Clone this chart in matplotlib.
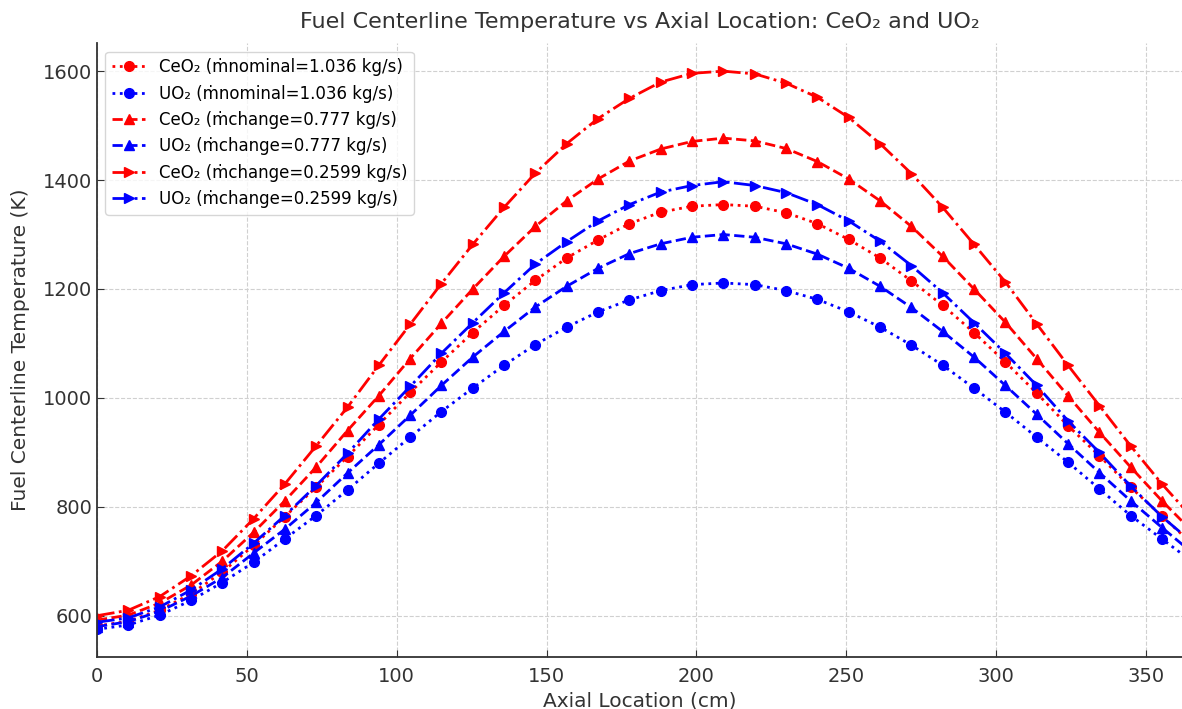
import matplotlib
matplotlib.use("Agg")
import matplotlib.pyplot as plt

# axial positions of the nodes (cm)
z = [0, 10.45, 20.9, 31.35, 41.8, 52.25, 62.7, 73.15, 83.6, 94.05, 104.5, 114.95,
     125.4, 135.85, 146.3, 156.75, 167.2, 177.65, 188.1, 198.55, 209.0, 219.45,
     229.9, 240.35, 250.8, 261.25, 271.7, 282.15, 292.6, 303.05, 313.5, 323.95,
     334.4, 344.85, 355.3, 365.76]

# centerline temperatures (K)
ceo2_nom = [581, 590, 610, 640, 680, 729, 782, 836, 892, 951, 1010, 1066, 1120, 1170,
            1216, 1257, 1290, 1320, 1341, 1352, 1355, 1352, 1340, 1320, 1291, 1257,
            1215, 1170, 1120, 1066, 1009, 949, 894, 836, 783, 730]
uo2_nom = [575, 583, 601, 628, 661, 698, 741, 784, 831, 880, 928, 975, 1018, 1060,
           1098, 1130, 1158, 1180, 1197, 1208, 1211, 1208, 1197, 1181, 1158, 1130,
           1097, 1060, 1018, 974, 928, 882, 833, 784, 741, 698]
ceo2_777 = [592, 601, 623, 656, 700, 753, 811, 873, 940, 1004, 1072, 1137, 1200, 1260,
            1315, 1362, 1402, 1435, 1457, 1471, 1477, 1472, 1458, 1434, 1402, 1362,
            1315, 1260, 1200, 1139, 1072, 1004, 937, 873, 811, 753]
uo2_777 = [580, 589, 608, 636, 670, 715, 759, 808, 862, 914, 968, 1023, 1075, 1122,
           1167, 1205, 1238, 1265, 1283, 1295, 1300, 1295, 1283, 1264, 1238, 1205,
           1166, 1122, 1075, 1023, 970, 916, 863, 811, 762, 714]
ceo2_2599 = [600, 610, 635, 673, 719, 778, 842, 912, 983, 1060, 1135, 1210, 1282, 1350,
             1413, 1467, 1513, 1550, 1580, 1596, 1600, 1595, 1578, 1552, 1515, 1467,
             1412, 1350, 1282, 1213, 1136, 1060, 986, 912, 842, 778]
uo2_2599 = [588, 596, 616, 647, 686, 733, 784, 839, 898, 961, 1021, 1082, 1138, 1193,
            1246, 1287, 1325, 1355, 1378, 1390, 1397, 1390, 1377, 1355, 1325, 1288,
            1243, 1193, 1138, 1082, 1023, 958, 900, 838, 782, 733]

series = [
    (ceo2_nom, "red", ":", "o", "CeO\u2082 (\u1e41nominal=1.036 kg/s)"),
    (uo2_nom, "blue", ":", "o", "UO\u2082 (\u1e41nominal=1.036 kg/s)"),
    (ceo2_777, "red", "--", "^", "CeO\u2082 (\u1e41change=0.777 kg/s)"),
    (uo2_777, "blue", "--", "^", "UO\u2082 (\u1e41change=0.777 kg/s)"),
    (ceo2_2599, "red", "-.", ">", "CeO\u2082 (\u1e41change=0.2599 kg/s)"),
    (uo2_2599, "blue", "-.", ">", "UO\u2082 (\u1e41change=0.2599 kg/s)"),
]

fig = plt.figure(figsize=(11.82, 7.09), dpi=100)
ax = fig.add_axes([0.082, 0.073, 0.918, 0.866])

for vals, col, ls, mk, lab in series:
    ax.plot(z, vals, color=col, linestyle=ls, marker=mk, markersize=7,
            linewidth=2, label=lab)

ax.set_xlim(0, 362)
ax.grid(True, linestyle="--", color="#d0d0d0", linewidth=0.8)
for s in ["top", "right"]:
    ax.spines[s].set_visible(False)
for s in ["left", "bottom"]:
    ax.spines[s].set_color("#333333")
    ax.spines[s].set_linewidth(1.3)
ax.tick_params(labelsize=14, colors="#333333", direction="in", length=5)
ax.tick_params(axis="x", pad=7)

ax.set_title("Fuel Centerline Temperature vs Axial Location: CeO\u2082 and UO\u2082",
             fontsize=16, color="#333333", pad=11)
ax.set_xlabel("Axial Location (cm)", fontsize=14.5, color="#333333", labelpad=4)
ax.set_ylabel("Fuel Centerline Temperature (K)", fontsize=14.5, color="#333333",
              labelpad=9)
ax.legend(loc="upper left", fontsize=12)

fig.savefig("out.png", dpi=100)
